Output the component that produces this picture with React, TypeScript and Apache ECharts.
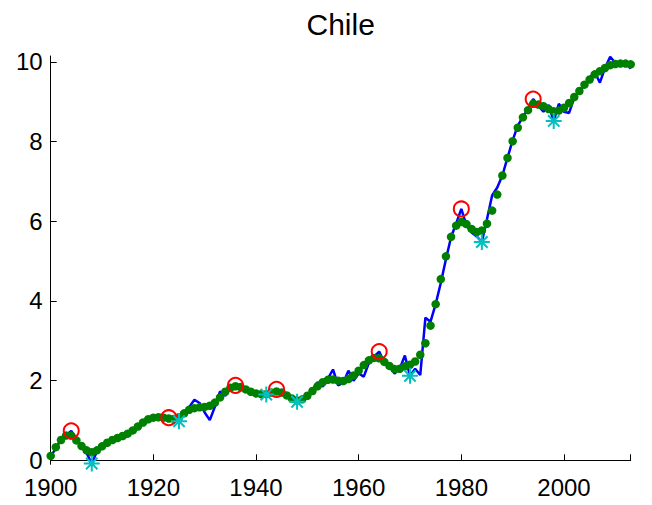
import React, { useEffect, useRef } from "react";
import * as echarts from "echarts";

const startYear = 1900;
const rawValues = [
  0.10, 0.30, 0.52, 0.63, 0.74, 0.55, 0.35, 0.18, -0.08, 0.22,
  0.36, 0.45, 0.50, 0.52, 0.55, 0.62, 0.72, 0.85, 0.96, 1.04,
  1.07, 1.10, 1.06, 1.07, 1.03, 0.98, 1.20, 1.34, 1.52, 1.44,
  1.20, 1.01, 1.35, 1.73, 1.62, 1.80, 1.88, 1.82, 1.76, 1.72,
  1.70, 1.68, 1.65, 1.72, 1.78, 1.72, 1.62, 1.56, 1.47, 1.55,
  1.65, 1.77, 1.96, 1.85, 2.05, 2.28, 1.88, 1.95, 2.25, 2.00,
  2.18, 2.10, 2.45, 2.60, 2.73, 2.45, 2.35, 2.18, 2.30, 2.63,
  2.12, 2.30, 2.14, 3.58, 3.48, 3.92, 4.45, 5.05, 5.60, 5.95,
  6.31, 5.90, 5.72, 5.62, 5.48, 6.05, 6.65, 6.85, 7.15, 7.60,
  8.03, 8.40, 8.62, 8.82, 9.07, 8.90, 8.75, 8.92, 8.52, 8.95,
  8.75, 8.72, 9.10, 9.28, 9.40, 9.60, 9.75, 9.48, 9.85, 10.13,
  9.98, 9.95, 9.97, 9.83,
];
const trendValues = [
  0.11, 0.33, 0.51, 0.62, 0.62, 0.50, 0.36, 0.25, 0.20, 0.25,
  0.35, 0.44, 0.51, 0.56, 0.61, 0.67, 0.75, 0.85, 0.95, 1.03,
  1.07, 1.08, 1.07, 1.05, 1.04, 1.08, 1.18, 1.27, 1.31, 1.33,
  1.34, 1.37, 1.45, 1.58, 1.72, 1.82, 1.86, 1.84, 1.78, 1.72,
  1.68, 1.66, 1.66, 1.70, 1.73, 1.70, 1.63, 1.55, 1.50, 1.53,
  1.62, 1.74, 1.86, 1.96, 2.02, 2.03, 2.00, 1.99, 2.04, 2.13,
  2.25, 2.39, 2.51, 2.57, 2.56, 2.47, 2.37, 2.29, 2.30, 2.36,
  2.40, 2.48, 2.65, 2.94, 3.38, 3.92, 4.55, 5.12, 5.61, 5.89,
  5.98, 5.93, 5.81, 5.73, 5.77, 5.94, 6.27, 6.67, 7.15, 7.59,
  8.01, 8.35, 8.61, 8.79, 8.95, 8.93, 8.89, 8.82, 8.76, 8.78,
  8.85, 8.97, 9.12, 9.27, 9.43, 9.56, 9.69, 9.77, 9.85, 9.92,
  9.95, 9.96, 9.96, 9.94,
];
const peakYears = [1904, 1923, 1936, 1944, 1964, 1980, 1994];
const troughYears = [1908, 1925, 1942, 1948, 1970, 1984, 1998];
const xTicks = [1900, 1920, 1940, 1960, 1980, 2000];
const yTicks = [0, 2, 4, 6, 8, 10];
const titleText = "Chile";

const FONT = "'Liberation Sans', Arial, Helvetica, sans-serif";

export default function App() {
  const ref = useRef<HTMLDivElement>(null);
  useEffect(() => {
    if (!ref.current) return;
    const chart = echarts.init(ref.current, undefined, { renderer: "svg" });
    const rawData = rawValues.map((v, i) => [startYear + i, v]);
    const trendData = trendValues.map((v, i) => [startYear + i, v]);
    const peakData = peakYears.map((y) => [y, rawValues[y - startYear]]);
    const troughData = troughYears.map((y) => [y, rawValues[y - startYear]]);
    const gridLeft = 50.7;
    const gridRight = 21.3;
    chart.setOption({
      animation: false,
      backgroundColor: "#ffffff",
      grid: { left: gridLeft, right: gridRight, top: 56, bottom: 40.7, containLabel: false },
      graphic: [
        {
          type: "text",
          x: gridLeft + (652 - gridLeft - gridRight) / 2,
          y: 24,
          style: {
            text: titleText,
            font: `30px ${FONT}`,
            fill: "#000",
            align: "center",
            verticalAlign: "middle",
            textAlign: "center",
            textVerticalAlign: "middle",
          },
        },
      ],
      xAxis: {
        type: "value",
        min: 1900,
        max: 2013,
        interval: 20,
        axisLine: { show: true, lineStyle: { color: "#000", width: 1 } },
        axisTick: { show: true, inside: true, length: 6, lineStyle: { color: "#000" } },
        axisLabel: {
          color: "#000",
          fontSize: 24,
          fontFamily: FONT,
          margin: 11,
          customValues: xTicks,
          formatter: (v: number) => String(v),
        },
        splitLine: { show: false },
      },
      yAxis: {
        type: "value",
        min: -0.1,
        max: 10.15,
        axisLine: { show: true, lineStyle: { color: "#000", width: 1 } },
        axisTick: { show: true, inside: true, length: 6, customValues: yTicks, lineStyle: { color: "#000" } },
        axisLabel: {
          color: "#000",
          fontSize: 24,
          fontFamily: FONT,
          margin: 8,
          customValues: yTicks,
          formatter: (v: number) => String(v),
        },
        splitLine: { show: false },
      },
      series: [
        {
          type: "line",
          data: rawData,
          showSymbol: false,
          symbol: "none",
          lineStyle: { color: "#0000ff", width: 2.5 },
          z: 1,
        },
        {
          type: "scatter",
          data: trendData,
          symbol: "circle",
          symbolSize: 8.5,
          itemStyle: { color: "#008000", opacity: 1 },
          z: 2,
        },
        {
          type: "scatter",
          data: peakData,
          symbol: "circle",
          symbolSize: 15,
          itemStyle: { color: "rgba(0,0,0,0)", borderColor: "#ff0000", borderWidth: 2, opacity: 1 },
          z: 3,
        },
        {
          type: "scatter",
          data: troughData,
          symbol: "path://M8 0 L8 16 M0 8 L16 8 M2.3 2.3 L13.7 13.7 M2.3 13.7 L13.7 2.3",
          symbolSize: 16,
          itemStyle: { color: "rgba(0,0,0,0)", borderColor: "#00c0c0", borderWidth: 2, opacity: 1 },
          z: 4,
        },
      ],
    });
    return () => chart.dispose();
  }, []);
  return (
    <div
      ref={ref}
      style={{ position: "fixed", left: 0, top: 0, width: 652, height: 505, background: "#fff" }}
    />
  );
}
